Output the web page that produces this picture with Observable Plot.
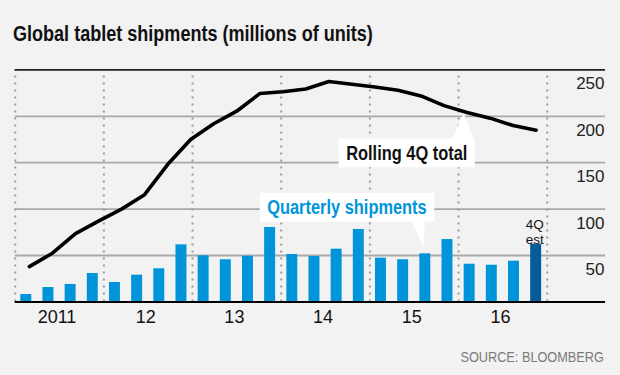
<!DOCTYPE html>
<html>
<head>
<meta charset="utf-8">
<script src="https://cdn.jsdelivr.net/npm/d3@7"></script>
<script src="https://cdn.jsdelivr.net/npm/@observablehq/plot@0.6"></script>
<style>
  html, body { margin: 0; padding: 0; background: #f2f2f2; }
  #wrap { width: 620px; height: 375px; overflow: hidden; background: #f2f2f2; }
  #title { box-sizing: border-box; height: 56px; padding: 21px 0 0 13px;
    font-family: "Liberation Sans", Arial, sans-serif; font-weight: bold;
    font-size: 22px; line-height: 26px; color: #111; white-space: nowrap; }
  #title span { display: inline-block; transform: scaleX(0.82); transform-origin: 0 0; }
  #chart svg { display: block; }
  #source { box-sizing: border-box; width: 620px; padding: 2px 15.7px 0 0; text-align: right;
    font-family: "Liberation Sans", Arial, sans-serif; font-size: 15.5px;
    line-height: 18px; color: #7a7a7a; white-space: nowrap; }
  #source span { display: inline-block; transform: scaleX(0.82); transform-origin: 100% 0; }
</style>
</head>
<body>
<div id="wrap">
  <div id="title"><span>Global tablet shipments (millions of units)</span></div>
  <div id="chart"></div>
  <div id="source"><span>SOURCE: BLOOMBERG</span></div>
</div>
<script>
// ---- data ----
const quarters = [
  "Q1 2011","Q2 2011","Q3 2011","Q4 2011",
  "Q1 2012","Q2 2012","Q3 2012","Q4 2012",
  "Q1 2013","Q2 2013","Q3 2013","Q4 2013",
  "Q1 2014","Q2 2014","Q3 2014","Q4 2014",
  "Q1 2015","Q2 2015","Q3 2015","Q4 2015",
  "Q1 2016","Q2 2016","Q3 2016","Q4 2016"
];
const quarterly = [8, 15.5, 18.8, 30.6, 20.9, 28.8, 35.7, 61.5, 49.7, 45.4, 49.2, 80.2,
                   51.1, 48.9, 56.8, 78.0, 47.1, 45.4, 51.8, 67.2, 40.6, 39.5, 43.9, 62.2];
const estimatedQuarter = "Q4 2016";
const estimateLabel = "4Q\nest";
const rolling4Q = [38, 52.5, 73.5, 87, 100, 115.5, 148, 175, 192, 205.5, 224.5, 226.5,
                   229.5, 237.5, 234.5, 231.5, 228, 222, 211.5, 204, 198, 190, 185];
const yearLabels = ["2011", "12", "13", "14", "15", "16"];
const yTicks = [50, 100, 150, 200, 250];
const gridValues = [50, 100, 150, 200];
const seriesLabels = ["Quarterly shipments", "Rolling 4Q total"];

// ---- derived tables ----
const firstYear = 2011;
const qStart = i => firstYear + i / 4;
const bars = quarters.map((q, i) => ({q, x1: qStart(i), x2: qStart(i + 1), v: quarterly[i]}));
const lineX = d3.scaleLinear().domain([0, rolling4Q.length - 1])
  .range([qStart(0) + 0.16, qStart(quarters.length - 1) + 0.125]);
const rolling = rolling4Q.map((v, i) => ({x: lineX(i), v}));
const years = yearLabels.map((label, i) => ({label, x: firstYear + i + 0.5}));
const dividers = d3.range(firstYear, firstYear + yearLabels.length + 1);
const xMax = 2017.657;

const BLUE = "#0095da", DARK = "#045c98";
const NARROW = 0.82;

// callout mark: white box + pointer anchored to a data point
const measureCtx = document.createElement("canvas").getContext("2d");
function callout(text, color, anchor, geom) {
  return (index, scales, values, dims, context) => {
    const doc = (context && context.document) || document;
    const ns = "http://www.w3.org/2000/svg";
    const ax = scales.x(anchor.x), ay = scales.y(anchor.y);
    measureCtx.font = "bold 20px 'Liberation Sans', Arial, sans-serif";
    const tw = measureCtx.measureText(text).width * NARROW;
    const w = tw + 15;
    const h = 29;
    const right = ax + geom.right;
    const left = right - w;
    const top = geom.above ? ay - geom.gap - h : ay + geom.gap;
    const g = doc.createElementNS(ns, "g");
    const rect = doc.createElementNS(ns, "rect");
    rect.setAttribute("x", left); rect.setAttribute("y", top);
    rect.setAttribute("width", w); rect.setAttribute("height", h);
    rect.setAttribute("fill", "#fff");
    g.appendChild(rect);
    const baseY = geom.above ? top + h - 0.5 : top + 0.5;
    const tri = doc.createElementNS(ns, "polygon");
    const pts = [[ax + geom.b0, baseY], [ax + geom.b1, baseY], [ax + geom.tx, ay + geom.ty]];
    tri.setAttribute("points", pts.map(p => p.join(",")).join(" "));
    tri.setAttribute("fill", "#fff");
    g.appendChild(tri);
    const t = doc.createElementNS(ns, "text");
    t.setAttribute("x", left + w / 2); t.setAttribute("y", top + h / 2);
    t.setAttribute("dy", "0.36em");
    t.setAttribute("text-anchor", "middle");
    t.setAttribute("fill", color);
    t.setAttribute("font-family", "'Liberation Sans', Arial, sans-serif");
    t.setAttribute("font-weight", "bold");
    t.setAttribute("font-size", "20");
    t.setAttribute("textLength", tw);
    t.setAttribute("lengthAdjust", "spacingAndGlyphs");
    t.textContent = text;
    g.appendChild(t);
    return g;
  };
}

const qIdx = 18;   // quarterly callout points at Q3 2015 bar
const rIdx = 19;   // rolling callout points at this line vertex

const chart = Plot.plot({
  width: 620,
  height: 290,
  marginTop: 13.4,
  marginBottom: 44.6,
  marginLeft: 14.7,
  marginRight: 15,
  x: {domain: [firstYear, xMax], axis: null},
  y: {domain: [0, 250], axis: null},
  style: {background: "transparent", fontFamily: "'Liberation Sans', Arial, sans-serif", overflow: "visible"},
  marks: [
    Plot.ruleY(gridValues, {stroke: "#a9a9a9", strokeWidth: 1.8}),
    Plot.ruleX(dividers, {x: d => d, y1: 0, y2: 250, stroke: "#9c9c9c", strokeWidth: 2, strokeDasharray: "2 5"}),
    callout(seriesLabels[0], BLUE, {x: (bars[qIdx].x1 + bars[qIdx].x2) / 2, y: bars[qIdx].v},
      {above: true, right: 9.4, gap: 31.6, b0: -12.6, b1: 0.1, tx: -1.6, ty: -5}),
    callout(seriesLabels[1], "#111", {x: rolling[rIdx].x, y: rolling[rIdx].v},
      {above: false, right: 8.3, gap: 26.2, b0: -14, b1: 7, tx: -3, ty: 1}),
    Plot.rectY(bars.filter(d => d.q !== estimatedQuarter), {x1: "x1", x2: "x2", y: "v", fill: BLUE, insetLeft: 5.6, insetRight: 5.6}),
    Plot.rectY(bars.filter(d => d.q === estimatedQuarter), {x1: "x1", x2: "x2", y: "v", fill: DARK, insetLeft: 5.6, insetRight: 5.6}),
    Plot.line(rolling, {x: "x", y: "v", stroke: "#000", strokeWidth: 3.6, strokeLinejoin: "round", strokeLinecap: "round"}),
    Plot.ruleY([250], {stroke: "#222", strokeWidth: 1.6}),
    Plot.ruleY([0], {stroke: "#000", strokeWidth: 2}),
    Plot.text(yTicks, {x: xMax, y: d => d, text: d => String(d), textAnchor: "end", dx: -1, dy: 14,
      lineAnchor: "middle", fontSize: 17, fill: "#222"}),
    Plot.text(years, {x: "x", y: 0, text: "label", dx: -2.5, dy: 15, lineAnchor: "middle", fontSize: 18, fill: "#111"}),
    Plot.text(bars.filter(d => d.q === estimatedQuarter), {x: d => (d.x1 + d.x2) / 2, y: "v", text: () => estimateLabel,
      lineAnchor: "bottom", lineHeight: 1.12, dx: -1.5, dy: 0, fontSize: 13.5, fill: "#111"})
  ]
});
document.getElementById("chart").appendChild(chart);
</script>
</body>
</html>
